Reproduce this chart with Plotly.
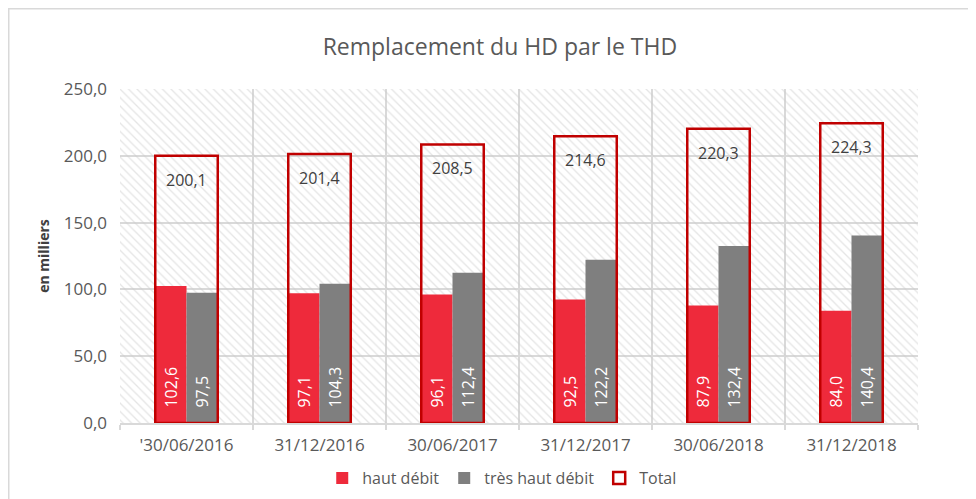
import plotly.graph_objects as go

categories = ["'30/06/2016", "31/12/2016", "30/06/2017", "31/12/2017", "30/06/2018", "31/12/2018"]
haut_debit = [102.6, 97.1, 96.1, 92.5, 87.9, 84.0]
tres_haut_debit = [97.5, 104.3, 112.4, 122.2, 132.4, 140.4]
total = [200.1, 201.4, 208.5, 214.6, 220.3, 224.3]
y_ticks = [0, 50, 100, 150, 200, 250]
y_max = 250

def fr(v):
    return f"{v:.1f}".replace(".", ",")

NB = "\u00a0"
FONT = "Open Sans"
RED = "#EE2A3B"
GRAY = "#7F7F7F"
DARKRED = "#C00000"
GRID = "#D9D9D9"

fig = go.Figure()

# hatched plot background
fig.add_trace(go.Bar(
    x=[categories[0]], y=[y_max], width=[len(categories)], offset=[-0.5],
    marker=dict(color="rgba(255,255,255,0)", line=dict(width=0),
                pattern=dict(shape="\\", fgcolor="#CCCCCC", bgcolor="rgba(0,0,0,0)",
                             size=6, solidity=0.22)),
    hoverinfo="skip", showlegend=False,
))

fig.add_trace(go.Bar(
    name="haut débit", x=categories, y=haut_debit,
    width=0.235, offset=-0.235,
    marker=dict(color=RED, line=dict(width=0)),
    text=[NB * 3 + fr(v) for v in haut_debit], textposition="inside",
    insidetextanchor="start", textangle=-90,
    textfont=dict(family=FONT, size=16, color="white"),
))
fig.add_trace(go.Bar(
    name="très haut débit", x=categories, y=tres_haut_debit,
    width=0.235, offset=0,
    marker=dict(color=GRAY, line=dict(width=0)),
    text=[NB * 3 + fr(v) for v in tres_haut_debit], textposition="inside",
    insidetextanchor="start", textangle=-90,
    textfont=dict(family=FONT, size=16, color="white"),
))
fig.add_trace(go.Bar(
    name="Total", x=categories, y=total,
    width=0.47, offset=-0.235,
    marker=dict(color="rgba(255,255,255,0)", line=dict(color=DARKRED, width=2.5)),
    hoverinfo="skip",
))

annotations = [dict(x=c, y=t, xref="x", yref="y", text=fr(t), showarrow=False,
                    yanchor="middle", yshift=-24,
                    font=dict(family=FONT, size=16, color="#404040"))
               for c, t in zip(categories, total)]

fig.update_layout(
    width=976, height=499,
    barmode="overlay",
    paper_bgcolor="white", plot_bgcolor="white",
    margin=dict(l=112, r=66, t=81, b=84),
    font=dict(family=FONT, color="#595959"),
    separators=",.",
    title=dict(text="Remplacement du HD par le THD", x=0.504, xref="container",
               xanchor="center", y=0.922, yref="container", yanchor="middle",
               font=dict(family=FONT, size=23, color="#595959")),
    xaxis=dict(type="category", categoryorder="array", categoryarray=categories,
               range=[-0.5, len(categories) - 0.5],
               tickson="boundaries", showgrid=True, gridcolor=GRID, gridwidth=1.5,
               ticks="outside", ticklen=5, tickcolor=GRID, tickwidth=1.5,
               ticklabelstandoff=6,
               showline=True, linecolor=GRID, linewidth=1.5,
               tickfont=dict(family=FONT, size=17, color="#595959"), fixedrange=True),
    yaxis=dict(range=[0, y_max], tickvals=y_ticks, tickformat=".1f",
               showgrid=True, gridcolor=GRID, gridwidth=1.5, zeroline=False,
               showline=False, ticks="", ticklabelstandoff=12,
               tickfont=dict(family=FONT, size=17, color="#595959"),
               title=dict(text="<b>en milliers</b>", standoff=10,
                          font=dict(family=FONT, size=14, color="#404040"))),
    legend=dict(orientation="h", x=0.479, xanchor="center", y=-0.165, yanchor="middle",
                font=dict(family=FONT, size=16, color="#595959"),
                traceorder="normal", itemwidth=30),
    annotations=annotations,
    shapes=[dict(type="rect", xref="paper", yref="paper",
                 x0=-0.1394, x1=1.2, y0=-0.5, y1=1.2403,
                 line=dict(color=GRID, width=1.5), layer="below")],
)

fig.write_html("out.html")
